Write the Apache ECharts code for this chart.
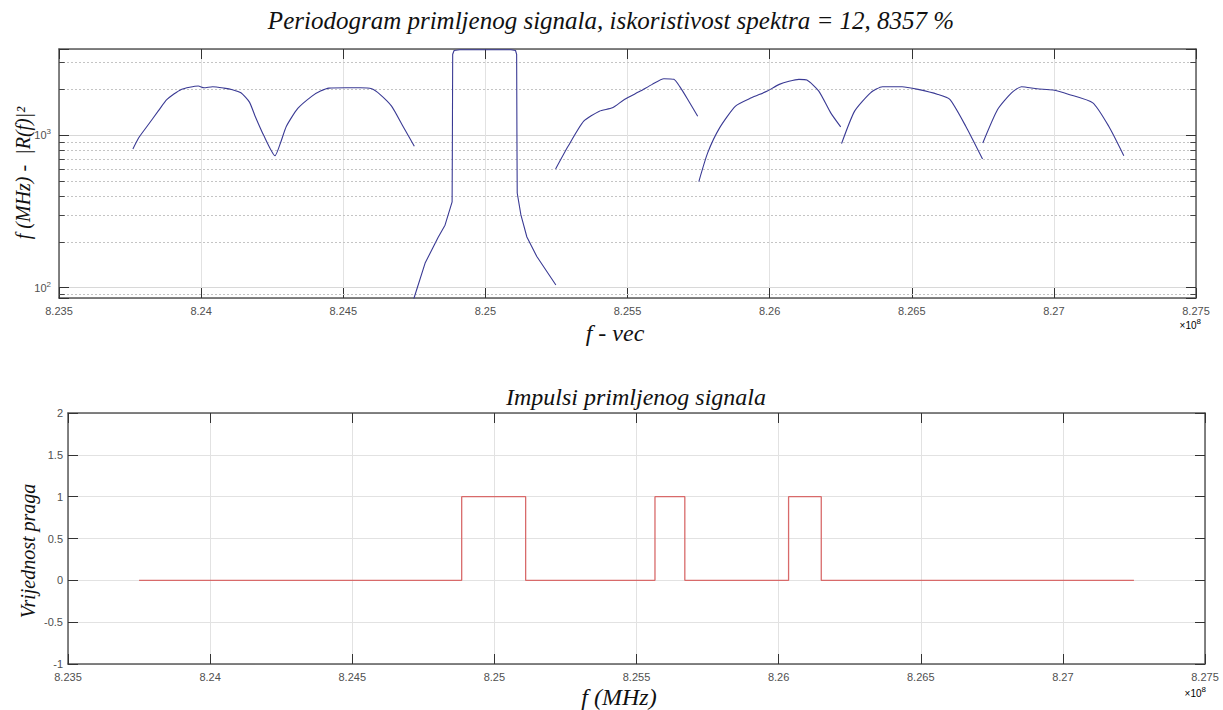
<!DOCTYPE html>
<html><head><meta charset="utf-8">
<script src="https://cdn.jsdelivr.net/npm/echarts@6/dist/echarts.min.js"></script>
<style>html,body{margin:0;padding:0;background:#fff}#c{width:1223px;height:710px}</style>
</head><body><div id="c"></div>
<script>
// Frequencies in units of 1e8 Hz (axis shows x10^8)
const xTicksMin = 8.235, xTicksMax = 8.275, xTickStep = 0.005;

// Top: periodogram lobes |R(f)|^2
const lobe1F = [8.2376, 8.2378, 8.2381, 8.2385, 8.2388, 8.2393, 8.2399, 8.2401, 8.2404, 8.2408, 8.2411, 8.2414, 8.2417, 8.2419, 8.2422, 8.2426, 8.2428, 8.2430, 8.2434, 8.2439, 8.2442, 8.2445, 8.2451, 8.2456, 8.2460, 8.2463, 8.2467, 8.2471, 8.2475];
const lobe1P = [813, 960, 1146, 1450, 1718, 2000, 2104, 2050, 2084, 2040, 1990, 1900, 1650, 1334, 1000, 735, 900, 1146, 1500, 1808, 1950, 2040, 2050, 2050, 2018, 1850, 1553, 1146, 846];

const blockF = [8.24745, 8.24749, 8.24788, 8.24834, 8.24858, 8.24883, 8.24884, 8.24885, 8.2489, 8.2491, 8.2500, 8.2509, 8.25106, 8.25110, 8.25111, 8.25112, 8.25125, 8.25146, 8.25181, 8.25248];
const blockP = [80, 85.5, 145, 214, 257, 365, 1000, 3400, 3600, 3640, 3640, 3640, 3600, 3400, 1000, 418, 300, 215, 160, 104];

const lobe3F = [8.25247, 8.25291, 8.25346, 8.25401, 8.25447, 8.25489, 8.25545, 8.25587, 8.25628, 8.25663, 8.25684, 8.25712, 8.25747];
const lobe3P = [600, 846, 1237, 1440, 1515, 1718, 1950, 2158, 2352, 2328, 2084, 1718, 1334];

const lobe4F = [8.25751, 8.25782, 8.25824, 8.2588, 8.25936, 8.25992, 8.26034, 8.26103, 8.26131, 8.26173, 8.26215, 8.2625];
const lobe4P = [497, 766, 1118, 1553, 1762, 1950, 2158, 2328, 2306, 1950, 1403, 1135];

const lobe5F = [8.26253, 8.26299, 8.26355, 8.26397, 8.26466, 8.26522, 8.26592, 8.26634, 8.2669, 8.26749];
const lobe5P = [881, 1440, 1900, 2084, 2084, 2000, 1854, 1718, 1146, 698];

const lobe6F = [8.2675, 8.26802, 8.26851, 8.26886, 8.26941, 8.26997, 8.27053, 8.27137, 8.27193, 8.27246];
const lobe6P = [890, 1476, 1900, 2084, 2018, 1982, 1854, 1633, 1146, 735];

// Log axis range and minor grid values
const powMin = 85.5, powMax = 3683;
const minorVals = [90, 200, 300, 400, 500, 600, 700, 800, 900, 2000, 3000];

// Bottom: threshold pulses
const pulseF = [8.2375, 8.24885, 8.2511, 8.25565, 8.2567, 8.26035, 8.2615, 8.2725];
const pulseV = [0, 1, 0, 1, 0, 1, 0, 0];

const zip = (a, b) => a.map((v, i) => [v, b[i]]);
const SERIF = "'Liberation Serif', 'Times New Roman', serif";
const SANS = "'Liberation Sans', Arial, sans-serif";
const fmtX = v => String(Math.round(v * 1000) / 1000);
const fmtLog = v => { const l = Math.log10(v), r = Math.round(l); return Math.abs(l - r) < 1e-6 ? '{b|10}{s|' + r + '}' : ''; };

const frameLine = {show: true, onZero: false, lineStyle: {color: '#5a5a5a', width: 1.5}};
const tickIn = {show: true, inside: true, length: 10, lineStyle: {color: '#333', width: 1}};
const lblStyle = {fontSize: 11, color: '#505050', fontFamily: SANS};
const gridLine = {show: true, lineStyle: {color: '#e2e2e2', width: 1}};

function xAx(grid, pos, main) {
  return {type: 'value', gridIndex: grid, position: pos, min: xTicksMin, max: xTicksMax, interval: xTickStep,
    axisLine: frameLine, axisTick: tickIn,
    axisLabel: main ? Object.assign({show: true, margin: 7, formatter: fmtX}, lblStyle) : {show: false},
    splitLine: main ? gridLine : {show: false}};
}

// minor grid + minor ticks for the log axis
const minorData = [];
minorVals.forEach(v => {
  minorData.push({yAxis: v, lineStyle: {type: [2, 2], color: '#c4c4c4', width: 1}});
});
minorVals.forEach(v => {
  minorData.push([{coord: [xTicksMin, v], lineStyle: {type: 'solid', color: '#444', width: 1}}, {coord: [xTicksMin + 0.0002, v]}]);
  minorData.push([{coord: [xTicksMax - 0.0002, v], lineStyle: {type: 'solid', color: '#444', width: 1}}, {coord: [xTicksMax, v]}]);
});

const blueC = '#3a3a94';
function lobe(f, p, withMark, smooth) {
  const s = {type: 'line', xAxisIndex: 0, yAxisIndex: 0, data: zip(f, p), showSymbol: false, symbol: 'none',
    smooth: smooth, lineStyle: {color: blueC, width: 1.1}, itemStyle: {color: blueC}, animation: false, clip: true, z: 3};
  if (withMark) s.markLine = {silent: true, symbol: ['none', 'none'], label: {show: false}, animation: false, data: minorData, z: 1};
  return s;
}

const titleStyle = {fontFamily: SERIF, fontStyle: 'italic', fill: '#111', align: 'center', verticalAlign: 'middle', textAlign: 'center', textVerticalAlign: 'middle'};
const expRich = {a: {fontSize: 10, fontFamily: SANS, color: '#666'}, b: {fontSize: 8, fontFamily: SANS, color: '#666', padding: [0, 0, 7, 0]}};

const chart = echarts.init(document.getElementById('c'), null, {renderer: 'svg'});
chart.setOption({
  backgroundColor: '#fff',
  animation: false,
  grid: [
    {left: 59, right: 27, top: 49, height: 249, outerBoundsMode: 'none', containLabel: false},
    {left: 68, right: 18, top: 413, height: 251, outerBoundsMode: 'none', containLabel: false}
  ],
  xAxis: [xAx(0, 'bottom', true), xAx(0, 'top', false), xAx(1, 'bottom', true), xAx(1, 'top', false)],
  yAxis: [
    {type: 'log', logBase: 10, gridIndex: 0, position: 'left', min: powMin, max: powMax,
      axisLine: frameLine, axisTick: tickIn,
      axisLabel: {margin: 8, formatter: fmtLog, color: '#505050',
        rich: {b: {fontSize: 11, fontFamily: SANS, color: '#505050'}, s: {fontSize: 8, fontFamily: SANS, color: '#505050', padding: [0, 0, 7, 0]}}},
      splitLine: {show: true, lineStyle: {color: '#d8d8d8', width: 1}}},
    {type: 'log', logBase: 10, gridIndex: 0, position: 'right', min: powMin, max: powMax,
      axisLine: frameLine, axisTick: tickIn, axisLabel: {show: false}, splitLine: {show: false}},
    {type: 'value', gridIndex: 1, position: 'left', min: -1, max: 2, interval: 0.5,
      axisLine: frameLine, axisTick: tickIn,
      axisLabel: Object.assign({margin: 5}, lblStyle), splitLine: gridLine},
    {type: 'value', gridIndex: 1, position: 'right', min: -1, max: 2, interval: 0.5,
      axisLine: frameLine, axisTick: tickIn, axisLabel: {show: false}, splitLine: {show: false}}
  ],
  series: [
    lobe(lobe1F, lobe1P, true, 0.2),
    lobe(blockF, blockP, false, false),
    lobe(lobe3F, lobe3P, false, 0.2),
    lobe(lobe4F, lobe4P, false, 0.2),
    lobe(lobe5F, lobe5P, false, 0.2),
    lobe(lobe6F, lobe6P, false, 0.2),
    {type: 'line', xAxisIndex: 2, yAxisIndex: 2, data: zip(pulseF, pulseV), step: 'end', showSymbol: false, symbol: 'none',
      lineStyle: {color: '#d86a6a', width: 1.3}, itemStyle: {color: '#d86a6a'}, animation: false}
  ],
  graphic: [
    {type: 'text', x: 611, y: 20, style: Object.assign({text: 'Periodogram primljenog signala, iskoristivost spektra = 12, 8357 %', fontSize: 25}, titleStyle)},
    {type: 'text', x: 23, y: 173, rotation: Math.PI / 2, style: Object.assign({text: 'f (MHz) -  |R(f)|²', fontSize: 20}, titleStyle)},
    {type: 'text', x: 615, y: 333, style: Object.assign({text: 'f - vec', fontSize: 24}, titleStyle)},
    {type: 'text', x: 1201, y: 325, style: {text: '{a|×10}{b|8}', rich: expRich, align: 'right', verticalAlign: 'middle', textAlign: 'right', textVerticalAlign: 'middle'}},
    {type: 'text', x: 636, y: 397, style: Object.assign({text: 'Impulsi primljenog signala', fontSize: 24}, titleStyle)},
    {type: 'text', x: 28, y: 551, rotation: Math.PI / 2, style: Object.assign({text: 'Vrijednost praga', fontSize: 20}, titleStyle)},
    {type: 'text', x: 619, y: 697, style: Object.assign({text: 'f (MHz)', fontSize: 24}, titleStyle)},
    {type: 'text', x: 1206, y: 693, style: {text: '{a|×10}{b|8}', rich: expRich, align: 'right', verticalAlign: 'middle', textAlign: 'right', textVerticalAlign: 'middle'}}
  ]
});
</script></body></html>
